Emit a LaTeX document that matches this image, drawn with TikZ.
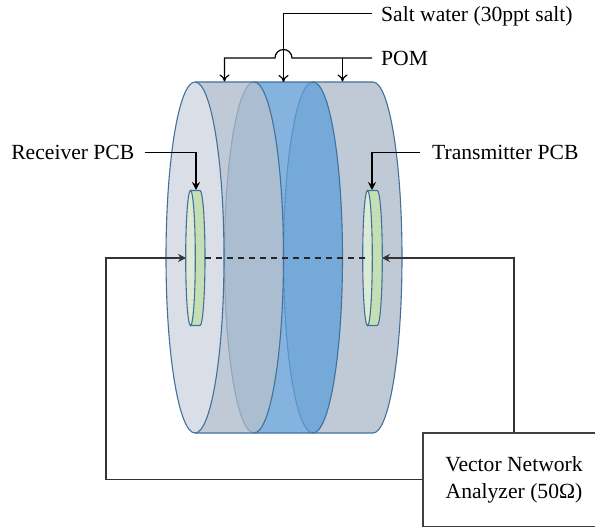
\documentclass[tikz,border=0pt]{standalone}
\usepackage{fontspec}
\setmainfont{Liberation Serif}
\usetikzlibrary{arrows.meta}
\definecolor{edgeb}{HTML}{41719C}
\definecolor{edgel}{HTML}{8FA6BE}
\definecolor{edgem}{HTML}{5B93C9}
\definecolor{facel}{HTML}{DADEE7}
\definecolor{pom}{HTML}{C0CAD6}
\definecolor{pomd}{HTML}{ABBDD0}
\definecolor{water}{HTML}{84B3E0}
\definecolor{waterd}{HTML}{74A9D8}
\definecolor{pcbl}{HTML}{DCE9D5}
\definecolor{pcbd}{HTML}{C5DFB4}
\tikzset{
 lab/.style={font=\fontsize{21.6}{26.7}\selectfont,inner sep=0pt},
 wire/.style={draw=black,line width=1.2pt},
 openarrow/.style={wire,-{To[length=7pt,width=10pt]}},
 solidarrow/.style={wire,-{Stealth[length=8pt,width=8pt]}},
 rim/.style={draw=edgeb,line width=1.1pt},
}
\newcommand{\cyl}[3]{% x1 x2 fill
 \fill[#3] (#1,82) -- (#2,82) arc[start angle=-90,end angle=90,x radius=29,y radius=175.5] -- (#1,433) arc[start angle=90,end angle=-90,x radius=29,y radius=175.5] -- cycle;
}
\begin{document}
\begin{tikzpicture}[x=1pt,y=-1pt]
\useasboundingbox (0,0) rectangle (595,527);
% body
\cyl{313}{373}{pom}
\cyl{254}{313}{water}
\cyl{195}{254}{pom}
% overlaps
\fill[pomd] (254,257.5) ellipse[x radius=29.5,y radius=175.5];
\fill[waterd] (313,257.5) ellipse[x radius=29.5,y radius=175.5];
\fill[facel] (195,257.5) ellipse[x radius=29,y radius=175.5];
% outlines
\draw[edgel,line width=1.1pt] (254,82) arc[start angle=270,end angle=90,x radius=29.5,y radius=175.5];
\draw[edgem,line width=1.1pt] (313,82) arc[start angle=270,end angle=90,x radius=29.5,y radius=175.5];
\draw[rim] (254,82) arc[start angle=-90,end angle=90,x radius=29.5,y radius=175.5];
\draw[rim] (313,82) arc[start angle=-90,end angle=90,x radius=29.5,y radius=175.5];
\draw[rim] (195,257.5) ellipse[x radius=29,y radius=175.5];
\draw[rim] (195,82) -- (373,82) arc[start angle=-90,end angle=90,x radius=29,y radius=175.5] -- (195,433);
% PCB disks
\draw[rim,fill=pcbd] (190.5,190.5) -- (200,190.5) arc[start angle=-90,end angle=90,x radius=5,y radius=67.5] -- (190.5,325.5) -- cycle;
\draw[rim,fill=pcbl] (190.5,258) ellipse[x radius=4.8,y radius=67.5];
\draw[rim,fill=pcbd] (367.5,190.5) -- (377.3,190.5) arc[start angle=-90,end angle=90,x radius=5,y radius=67.5] -- (367.5,325.5) -- cycle;
\draw[rim,fill=pcbl] (367.5,258) ellipse[x radius=4.8,y radius=67.5];
% labels
\node[lab,anchor=base west] (salt) at (381,22) {Salt water (30ppt salt)};
\node[lab,anchor=base west] (pomlab) at (381,65.5) {POM};
\node[lab,anchor=base east] (recv) at (134.5,160) {Receiver PCB};
\node[lab,anchor=base west] (trans) at (432,160) {Transmitter PCB};
\node[lab,draw=black!75,line width=1.2pt,minimum width=182pt,minimum height=93.5pt,align=center] (vna) at (514,479.7) {Vector Network\\Analyzer (50Ω)};
% coordinates
\coordinate (saltL) at (372,13.5);
\coordinate (pomL) at (372,58);
\coordinate (recvL) at (144.5,152.3);
\coordinate (transR) at (420,152.3);
\coordinate (saltTip) at (283.5,82);
\coordinate (pomA) at (224.5,81.5);
\coordinate (pomB) at (342.5,81.5);
\coordinate (recvTip) at (196,190);
\coordinate (transTip) at (372,190);
\coordinate (rxIn) at (186,258);
\coordinate (txIn) at (382,258);
\coordinate (dashA) at (205,258);
\coordinate (dashB) at (368,258);
% connectors
\draw[openarrow] (saltL) -| (saltTip);
\draw[openarrow] (pomL) -- (292,58) arc[start angle=0,end angle=-180,radius=8.5] -- (224.5,58) -- (pomA);
\draw[openarrow] (342.5,58) -- (pomB);
\draw[solidarrow] (recvL) -| (recvTip);
\draw[solidarrow] (transR) -| (transTip);
\draw[wire,black!85,dash pattern=on 6pt off 5pt] (dashA) -- (dashB);
\draw[solidarrow,black!80] (vna.west) -- (106,479.7) -- (106,258) -- (rxIn);
\draw[solidarrow,black!80] (vna.north) -- (514,258) -- (txIn);
\end{tikzpicture}
\end{document}
